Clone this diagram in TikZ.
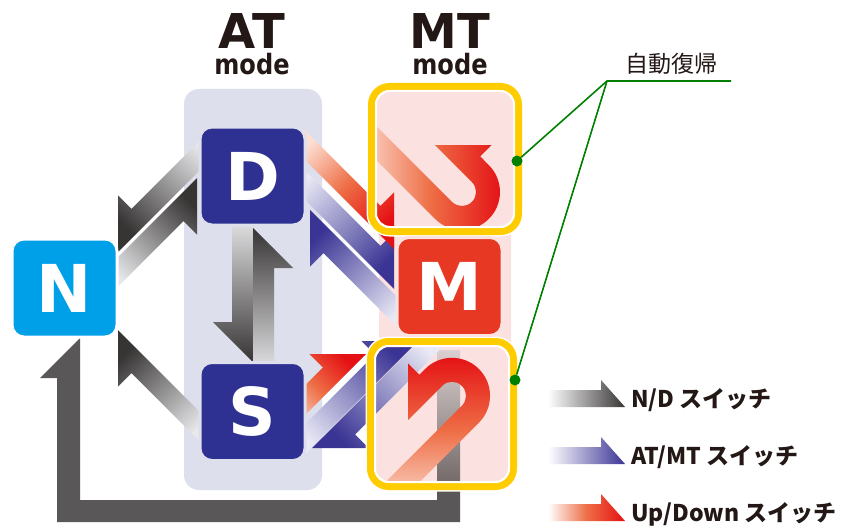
\documentclass[tikz,border=0pt]{standalone}
\usepackage{fontspec}
\setmainfont{DejaVu Sans}
\newfontfamily\cjk{Noto Sans CJK JP}
\definecolor{atcol}{RGB}{221,223,237}
\definecolor{mtcol}{RGB}{251,225,223}
\definecolor{dblue}{RGB}{46,49,146}
\definecolor{ncyan}{RGB}{0,160,233}
\definecolor{mred}{RGB}{230,56,34}
\definecolor{ybox}{RGB}{255,204,0}
\definecolor{callout}{RGB}{0,128,0}
\definecolor{gdark}{RGB}{55,52,52}
\definecolor{glight}{RGB}{232,232,234}
\definecolor{bdark}{RGB}{58,52,148}
\definecolor{blight}{RGB}{234,234,246}
\definecolor{odark}{RGB}{228,16,20}
\definecolor{omid}{RGB}{238,110,70}
\definecolor{olight}{RGB}{252,222,210}
\definecolor{lgray}{RGB}{89,87,87}
\definecolor{titlecol}{RGB}{35,24,21}
% half arrow: tail x,y ; tip x,y ; side ; band width ; barb ; head length ; style
\newcommand{\harp}[9]{%
  \pgfmathsetmacro\hpdx{(#3)-(#1)}%
  \pgfmathsetmacro\hpdy{(#4)-(#2)}%
  \pgfmathsetmacro\hplen{veclen(\hpdx,\hpdy)}%
  \pgfmathsetmacro\hpux{\hpdx/\hplen}%
  \pgfmathsetmacro\hpuy{\hpdy/\hplen}%
  \pgfmathsetmacro\hpnx{(#5)*(\hpuy)}%
  \pgfmathsetmacro\hpny{-(#5)*(\hpux)}%
  \pgfmathsetmacro\hpax{(#3)-(#8)*(\hpux)+((#6)+(#7))*(\hpnx)}%
  \pgfmathsetmacro\hpay{(#4)-(#8)*(\hpuy)+((#6)+(#7))*(\hpny)}%
  \pgfmathsetmacro\hpbx{(#3)-(#8)*(\hpux)+(#6)*(\hpnx)}%
  \pgfmathsetmacro\hpby{(#4)-(#8)*(\hpuy)+(#6)*(\hpny)}%
  \pgfmathsetmacro\hpcx{(#1)+(#6)*(\hpnx)}%
  \pgfmathsetmacro\hpcy{(#2)+(#6)*(\hpny)}%
  \pgfmathsetmacro\hpang{atan2(-(\hpdy),\hpdx)+90}%
  \shade[#9,shading angle=\hpang] (#1,#2) -- (#3,#4) -- (\hpax,\hpay) -- (\hpbx,\hpby) -- (\hpcx,\hpcy) -- cycle;%
}
\newcommand{\modetitle}[1]{%
  \begin{tabular}[t]{@{}c@{}}%
    \fontsize{48}{48}\selectfont\bfseries #1\\[1.1pt]
    \scalebox{0.86}[1]{\fontsize{28}{28}\selectfont\bfseries mode}%
  \end{tabular}}
\begin{document}
\begin{tikzpicture}[x=1pt,y=-1pt,
  letterbox/.style={rounded corners=12pt,minimum width=105pt,minimum height=98pt,inner sep=0pt,text=white,font=\fontsize{66}{66}\selectfont\bfseries,line width=3pt},
  ttlstyle/.style={anchor=base,text=titlecol,inner sep=0pt},
  legtext/.style={anchor=base west,text=titlecol,inner sep=0pt,font=\cjk\bfseries\fontsize{23}{23}\selectfont},
  grayarr/.style={left color=glight,right color=gdark},
  bluearr/.style={left color=blight,right color=bdark},
  orarr/.style={left color=olight,right color=odark,middle color=omid},
  leggray/.style={left color=white,right color=gdark},
  legblue/.style={left color=white,right color=bdark},
  legor/.style={left color=white,right color=odark,middle color=omid},
  calloutdot/.style={circle,fill=callout,minimum size=11pt,inner sep=0pt},
  calloutline/.style={draw=callout,line width=1.6pt},
  halo/.style={draw=white,line width=10pt,rounded corners=18pt},
  yframe/.style={draw=ybox,line width=7pt,rounded corners=18pt},
  innerline/.style={draw=white,line width=2pt,rounded corners=14pt}
]
\useasboundingbox (0,0) rectangle (849,527);
\fill[white] (0,0) rectangle (849,527);
% columns
\fill[atcol,rounded corners=15pt] (184,89) rectangle (322,490);
\fill[mtcol,rounded corners=10pt] (379,89) rectangle (511,490);
% loop box fills
\fill[mtcol,rounded corners=18pt] (371.5,86.5) rectangle (518.5,231.5);
\fill[mtcol,rounded corners=18pt] (370.5,341.5) rectangle (513.5,486.5);
% big return arrow to N
\shade[top color={rgb,255:red,218;green,208;blue,208},bottom color={rgb,255:red,110;green,100;blue,100}] (437,350) rectangle (460,490);
\fill[lgray] (80,338) -- (40,378) -- (57,378) -- (57,522) -- (460,522) -- (460,487) -- (437,487) -- (437,500) -- (80,500) -- cycle;
% N/D switch arrows
\harp{220}{150}{118}{252}{-1}{21}{19}{40}{grayarr}
\harp{100}{275}{197}{178}{-1}{21}{19}{40}{grayarr}
\harp{215}{427}{118}{330}{1}{21}{19}{40}{grayarr}
\harp{253}{215}{253}{362}{-1}{21}{19}{40}{grayarr}
\harp{253}{375}{253}{228}{-1}{21}{19}{40}{grayarr}
% AT/MT switch arrows
\harp{415}{315}{310}{210}{1}{21}{19}{40}{bluearr}
\harp{285}{180}{394}{289}{1}{21}{19}{40}{bluearr}
\harp{302}{457}{418}{341}{1}{21}{19}{40}{bluearr}
\harp{430}{330}{312}{448}{1}{21}{19}{40}{bluearr}
% Up/Down switch arrows
\harp{290}{145}{394}{249}{1}{21}{19}{40}{orarr}
\harp{290}{430}{366}{354}{1}{21}{19}{40}{orarr}
% automatic return loops
\begin{scope}
  \clip[rounded corners=13pt] (377,92) rectangle (513,226);
  \shade[left color=olight,right color=odark,middle color=omid]
    (357.3,141.1) -- (435.1,218.9) arc[start angle=225,end angle=405,radius=38pt]
    -- (480.2,156.4) -- (491.5,145.1) -- (434.9,145.1) -- (471.9,182.1)
    arc[start angle=45,end angle=-135,radius=14pt] -- (374.3,124.1) -- cycle;
\end{scope}
\begin{scope}
  \clip[rounded corners=13pt] (376,347) rectangle (508,481);
  \shade[bottom color=olight,top color=odark,middle color=omid]
    (394.0,507.5) -- (478.9,422.7) arc[start angle=-45,end angle=135,radius=38pt]
    -- (419.3,374.7) -- (408.0,363.4) -- (408,420) -- (442.1,385.9)
    arc[start angle=135,end angle=-45,radius=14pt] -- (377.0,490.6) -- cycle;
\end{scope}
% yellow frames
\path[halo] (371.5,86.5) rectangle (518.5,231.5);
\path[yframe] (371.5,86.5) rectangle (518.5,231.5);
\path[innerline] (376,91) rectangle (514,227);
\path[halo] (370.5,341.5) rectangle (513.5,486.5);
\path[yframe] (370.5,341.5) rectangle (513.5,486.5);
\path[innerline] (375,346) rectangle (509,482);
% mode boxes
\node[letterbox,fill=ncyan,draw=white] (N) at (64.5,288) {N};
\node[letterbox,fill=dblue,draw=atcol] (D) at (252.5,176) {D};
\node[letterbox,fill=dblue,draw=atcol] (S) at (252.5,411.5) {S};
\node[letterbox,fill=mred,draw=mtcol] (M) at (449.5,286.5) {M};
% titles
\node[ttlstyle] (ttlAT) at (252,49) {\modetitle{AT}};
\node[ttlstyle] (ttlMT) at (450,49) {\modetitle{MT}};
% legend
\harp{548}{407}{625}{407}{1}{17}{10}{24}{leggray}
\harp{548}{464}{625}{464}{1}{17}{10}{24}{legblue}
\harp{548}{521}{625}{521}{1}{17}{10}{24}{legor}
\node[legtext] (lg1) at (631,407) {N/D スイッチ};
\node[legtext] (lg2) at (631,464) {AT/MT スイッチ};
\node[legtext] (lg3) at (631,521) {Up/Down スイッチ};
% callout
\node[text=titlecol,font=\cjk\fontsize{23}{23}\selectfont] (jidou) at (671,64) {自動復帰};
\coordinate (cpt) at (607,81);
\coordinate (cend) at (731,81);
\node[calloutdot] (dot1) at (517,161) {};
\node[calloutdot] (dot2) at (515,380) {};
\draw[calloutline] (cend) -- (cpt) -- (dot1);
\draw[calloutline] (cpt) -- (dot2);
\end{tikzpicture}
\end{document}
